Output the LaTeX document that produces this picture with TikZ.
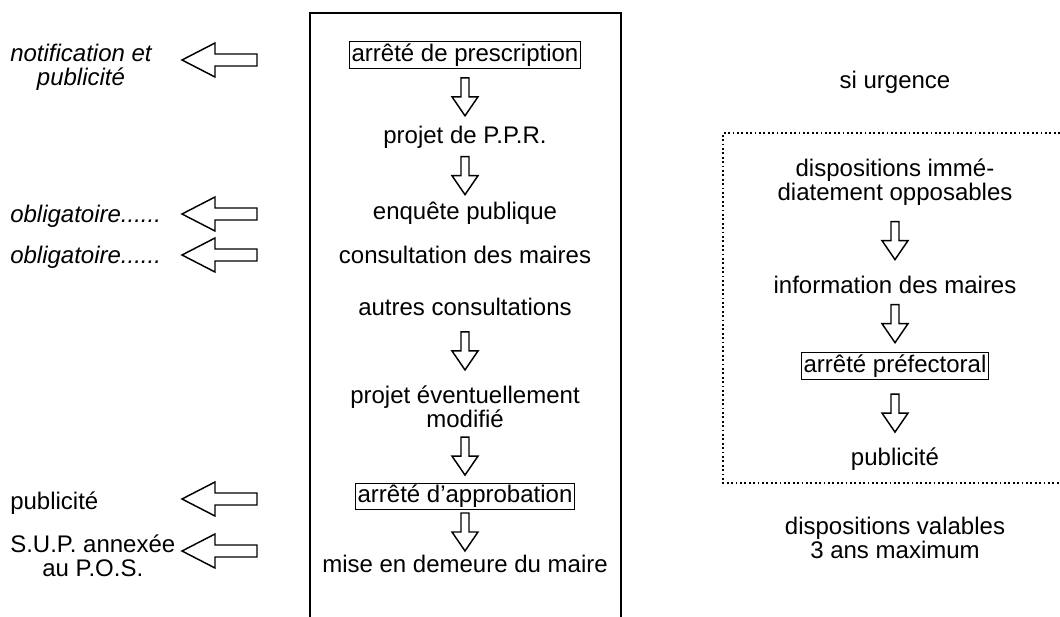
\documentclass[tikz,border=0pt]{standalone}
\usepackage{fontspec}
\setmainfont{Liberation Sans}
\usetikzlibrary{positioning,calc}

\tikzset{
  txt/.style={inner sep=1pt, align=center},
  boxed/.style={draw, line width=0.6pt, inner sep=1.5pt},
  side/.style={inner sep=0pt, align=center, anchor=west},
  downarr/.pic={\draw[line width=1.1pt] (-4,-19) -- (4,-19) -- (4,0) -- (13,0) -- (0,19) -- (-13,0) -- (-4,0) -- cycle;},
  leftarr/.pic={\draw[line width=1.1pt] (37,-6) -- (-5,-6) -- (-5,-17) -- (-38,0) -- (-5,17) -- (-5,6) -- (37,6) -- cycle;}
}

\begin{document}
\begin{tikzpicture}[x=0.75pt, y=-0.75pt, font=\fontsize{18pt}{18pt}\selectfont]
    \useasboundingbox (0,0) rectangle (1060,617);

    % main procedure
    \draw[line width=1.2pt] (310,617) |- (621,13) -- (621,617);

    \node (pres) [txt, boxed] at (465,55) {arrêté de prescription};
    \node (ppr) [txt, node distance=62pt, below of=pres] {projet de P.P.R.};
    \node (enq) [txt, node distance=57pt, below of=ppr] {enquête publique};
    \node (consult) [txt, node distance=31pt, below of=enq] {consultation des maires};
    \node (autres) [txt, node distance=39pt, below of=consult] {autres consultations};
    \node (projmod) [txt, node distance=75pt, below of=autres] {projet éventuellement\\modifié};
    \node (approb) [txt, boxed, node distance=67pt, below of=projmod] {arrêté d'approbation};
    \node (demeure) [txt, node distance=51pt, below of=approb] {mise en demeure du maire};

    \pic at ($(pres.south)!.5!(ppr.north)$) {downarr};
    \pic at ($(ppr.south)!.5!(enq.north)$) {downarr};
    \pic at ($(autres.south)!.5!(projmod.north)$) {downarr};
    \pic at ($(projmod.south)!.5!(approb.north)$) {downarr};
    \pic at ($(approb.south)!.5!(demeure.north)$) {downarr};

    % side notes
    \node (lnotif) [side] at (10,67) {\itshape notification et\\\itshape publicité};
    \node (loblig1) [side] at (10,216) {\itshape obligatoire......};
    \node (loblig2) [side] at (10,257) {\itshape obligatoire......};
    \node (lpub) [side] at (10,503) {publicité};
    \node (lsup) [side] at (10,556) {S.U.P. annexée\\au P.O.S.};

    \pic at (220,60) {leftarr};
    \pic at (220,214) {leftarr};
    \pic at (220,255) {leftarr};
    \pic at (220,499) {leftarr};
    \pic at (220,551) {leftarr};

    % urgent case
    \node (urg) [txt] at (895,82) {si urgence};
    \draw[dotted, line width=1.3pt] (1060,133) -- (723,133) -- (723,483) -- (1060,483);

    \node (dispimm) [txt, node distance=75pt, below of=urg] {dispositions immé-\\diatement opposables};
    \node (info) [txt, node distance=77pt, below of=dispimm] {information des maires};
    \node (prefect) [txt, boxed, node distance=61pt, below of=info] {arrêté préfectoral};
    \node (rpub) [txt, node distance=70pt, below of=prefect] {publicité};
    \node (valab) [txt, node distance=59pt, below of=rpub] {dispositions valables\\3 ans maximum};

    \pic at ($(dispimm.south)!.5!(info.north)$) {downarr};
    \pic at ($(info.south)!.5!(prefect.north)$) {downarr};
    \pic at ($(prefect.south)!.5!(rpub.north)$) {downarr};
\end{tikzpicture}
\end{document}
